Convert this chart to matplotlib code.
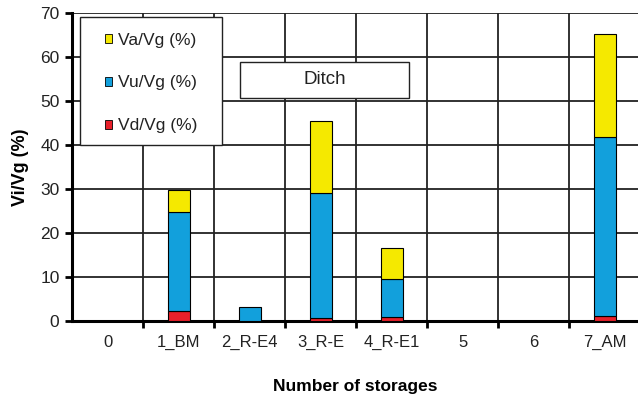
import matplotlib
matplotlib.use("Agg")
import matplotlib.pyplot as plt
from matplotlib.patches import Rectangle, Patch
import numpy as np

categories = ["0", "1_BM", "2_R-E4", "3_R-E", "4_R-E1", "5", "6", "7_AM"]
vd_vg = [0.0, 2.3, 0.0, 0.7, 0.8, 0.0, 0.0, 1.1]
vu_vg = [0.0, 22.4, 3.2, 28.4, 8.7, 0.0, 0.0, 40.8]
va_vg = [0.0, 5.1, 0.0, 16.4, 7.0, 0.0, 0.0, 23.3]

plt.rcParams["font.family"] = ["Liberation Sans", "DejaVu Sans"]

c_red = "#E8202A"
c_blue = "#12A0DC"
c_yellow = "#F5E900"
c_text = "#222222"

fig = plt.figure(figsize=(6.38, 3.94), dpi=100)
ax = fig.add_axes([72 / 638, 1 - 321 / 394, 566 / 638, 308 / 394])

x = np.arange(len(categories))
w = 0.31
vd = np.array(vd_vg)
vu = np.array(vu_vg)
va = np.array(va_vg)
for xi, d, u, a in zip(x, vd, vu, va):
    if d > 0:
        ax.bar(xi, d, w, color=c_red, edgecolor="black", linewidth=0.8, zorder=3)
    if u > 0:
        ax.bar(xi, u, w, bottom=d, color=c_blue, edgecolor="black", linewidth=0.8, zorder=3)
    if a > 0:
        ax.bar(xi, a, w, bottom=d + u, color=c_yellow, edgecolor="black", linewidth=0.8, zorder=3)

ax.set_xlim(-0.5, 7.47)
ax.set_ylim(0, 70)
ax.set_yticks(np.arange(0, 71, 10))
ax.set_xticks(x)
ax.set_xticklabels(categories)
ax.set_xticks(np.arange(0.5, 7.5, 1.0), minor=True)

ax.tick_params(axis="x", which="major", length=0, pad=10, labelsize=12, labelcolor=c_text)
ax.tick_params(axis="x", which="minor", length=5, width=2, direction="out", color="black")
ax.tick_params(axis="y", which="major", length=5, width=2, direction="out", labelsize=12.5,
               color="black", labelcolor=c_text, pad=4)

ax.grid(True, axis="y", which="major", color=c_text, linewidth=1.3, zorder=0)
ax.grid(True, axis="x", which="minor", color=c_text, linewidth=1.3, zorder=0)
ax.set_axisbelow(True)

for s in ["top", "right"]:
    ax.spines[s].set_visible(False)
ax.spines["left"].set_linewidth(2.2)
ax.spines["bottom"].set_linewidth(2.2)

ax.set_ylabel("Vi/Vg (%)", fontsize=13, fontweight="bold", labelpad=8)
ax.set_xlabel("Number of storages", fontsize=12.5, fontweight="bold", labelpad=21)

# legend frame
lx0, lx1, ly0, ly1 = 80, 222, 17, 145
ax.add_patch(Rectangle(((lx0 - 72) / 566, (321 - ly1) / 308), (lx1 - lx0) / 566,
                       (ly1 - ly0) / 308, transform=ax.transAxes,
                       facecolor="white", edgecolor=c_text, linewidth=1.0, zorder=4))
handles = [Patch(facecolor=c_yellow, edgecolor="black", linewidth=0.6),
           Patch(facecolor=c_blue, edgecolor="black", linewidth=0.6),
           Patch(facecolor=c_red, edgecolor="black", linewidth=0.6)]
labels = ["Va/Vg (%)", "Vu/Vg (%)", "Vd/Vg (%)"]
leg = ax.legend(handles, labels, loc="center",
                bbox_to_anchor=(((lx0 + lx1) / 2 - 72) / 566, (321 - (ly0 + ly1) / 2 - 2) / 308),
                fontsize=12.5, frameon=False,
                handlelength=0.42, handleheight=0.42, handletextpad=0.35,
                labelspacing=1.6, borderpad=0, borderaxespad=0)
for t in leg.get_texts():
    t.set_color(c_text)
leg.set_zorder(5)

# "Ditch" label box
ax.add_patch(Rectangle((0.297, 0.724), 0.2986, 0.117, transform=ax.transAxes,
                       facecolor="white", edgecolor=c_text, linewidth=1.0, zorder=5))
ax.text(0.297 + 0.2986 / 2, 0.724 + 0.117 / 2, "Ditch", transform=ax.transAxes,
        ha="center", va="center", fontsize=13.5, color=c_text, zorder=6)

fig.savefig("out.png", dpi=100)
